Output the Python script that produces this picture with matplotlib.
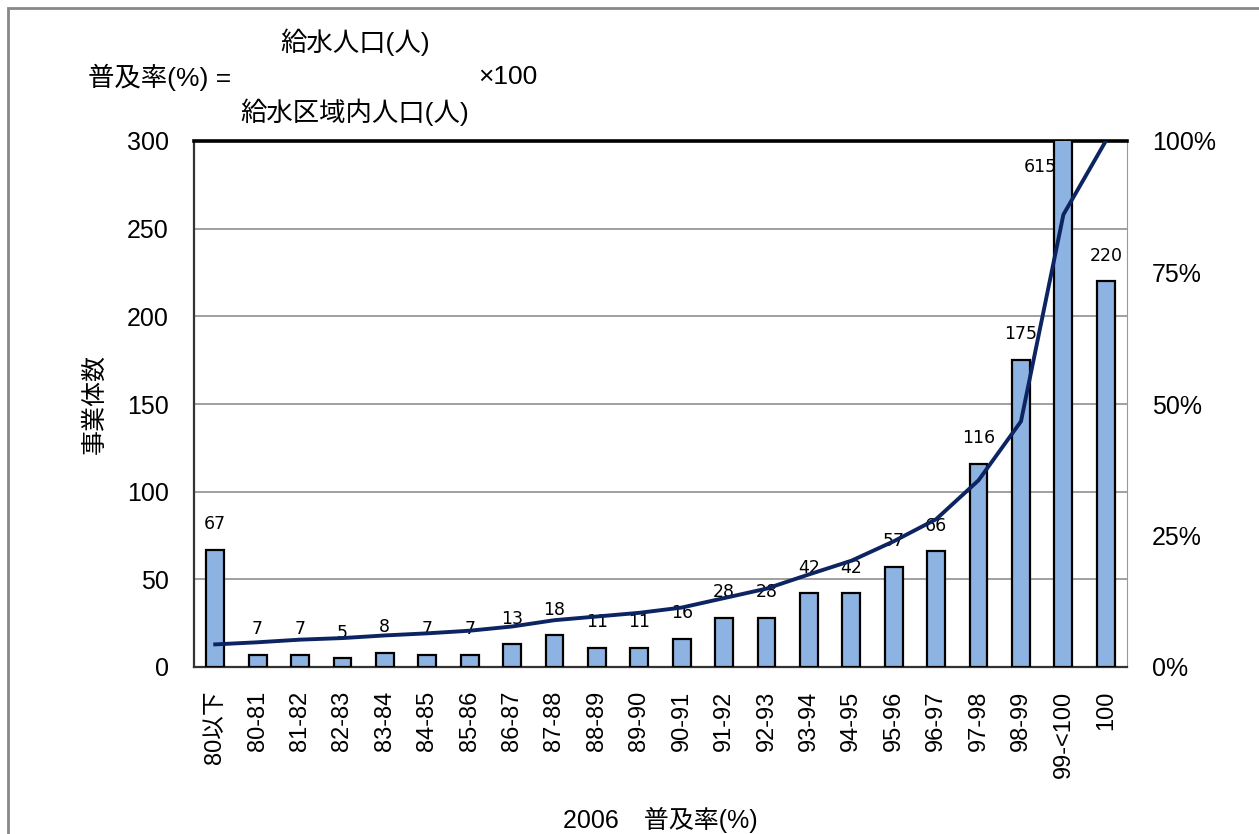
import matplotlib
matplotlib.use("Agg")
import matplotlib.pyplot as plt
from matplotlib.patches import Rectangle

plt.rcParams['font.family'] = ['Liberation Sans', 'Noto Sans CJK JP', 'DejaVu Sans']

# data
categories = ['80以下', '80-81', '81-82', '82-83', '83-84', '84-85', '85-86', '86-87',
              '87-88', '88-89', '89-90', '90-91', '91-92', '92-93', '93-94', '94-95',
              '95-96', '96-97', '97-98', '98-99', '99-<100', '100']
counts = [67, 7, 7, 5, 8, 7, 7, 13, 18, 11, 11, 16, 28, 28, 42, 42, 57, 66, 116, 175, 615, 220]
cum_pct = [4.3, 4.7, 5.2, 5.5, 6.0, 6.4, 6.9, 7.7, 8.9, 9.6, 10.3, 11.3, 13.1, 14.9,
           17.6, 20.2, 23.9, 28.1, 35.5, 46.7, 86.0, 100.0]
left_ticks = [0, 50, 100, 150, 200, 250, 300]
right_ticks = [0, 25, 50, 75, 100]

W, H = 1259, 834
fig = plt.figure(figsize=(W / 100, H / 100), dpi=100)
ax = fig.add_axes([194 / W, 1 - 667 / H, (1127 - 194) / W, (667 - 141) / H])
fam = ['Liberation Sans', 'Noto Sans CJK JP']

x = list(range(len(categories)))
ax.bar(x, counts, width=0.42, color='#8DB3E2', edgecolor='black', linewidth=1.6, zorder=3)
ax.set_xlim(-0.5, len(categories) - 0.5)
ax.set_ylim(0, 300)
ax.set_yticks(left_ticks)
ax.set_yticklabels([str(t) for t in left_ticks], fontsize=18)
ax.tick_params(axis='y', length=0, pad=18)
ax.set_xticks(x)
ax.set_xticklabels(categories, rotation=90, fontsize=17, family=fam)
ax.tick_params(axis='x', length=0, pad=17)
ax.yaxis.grid(True, color='#999999', linewidth=1.3, zorder=0)
ax.set_axisbelow(True)
ax.set_ylabel('事業体数', fontsize=18, family=['Noto Sans CJK JP'], labelpad=14)
ax.set_xlabel('2006　普及率(%)', fontsize=18, family=fam, labelpad=21)

ax.spines['top'].set_linewidth(2.6)
ax.spines['top'].set_color('black')
ax.spines['left'].set_color('#333333')
ax.spines['left'].set_linewidth(1.6)
ax.spines['bottom'].set_color('#333333')
ax.spines['bottom'].set_linewidth(1.6)
ax.spines['right'].set_color('#999999')

for i, v in enumerate(counts):
    if v > 300:
        ax.annotate(str(v), (i, 300), xytext=(-16.5, -19), textcoords='offset points',
                    ha='center', va='center', fontsize=12.5, family=['DejaVu Sans'], zorder=5)
    else:
        ax.annotate(str(v), (i, v), xytext=(0, 12), textcoords='offset points',
                    ha='center', va='bottom', fontsize=12.5, family=['DejaVu Sans'], zorder=5)

ax2 = ax.twinx()
ax2.plot(x, cum_pct, color='#0C2461', linewidth=2.8, zorder=4)
ax2.set_ylim(0, 100)
ax2.set_yticks(right_ticks)
ax2.set_yticklabels([f'{t}%' for t in right_ticks], fontsize=18)
ax2.tick_params(axis='y', length=0, pad=18)
for s in ax2.spines.values():
    s.set_visible(False)

# formula header
fs = 19
fig.text(355 / W, 1 - 42 / H, '給水人口(人)', ha='center', va='center', fontsize=fs, family=fam)
fig.text(88 / W, 1 - 77 / H, '普及率(%) =', ha='left', va='center', fontsize=fs, family=fam)
fig.text(478 / W, 1 - 77 / H, '×100', ha='left', va='center', fontsize=fs, family=fam)
fig.text(355 / W, 1 - 112 / H, '給水区域内人口(人)', ha='center', va='center', fontsize=fs, family=fam)

# outer frame
fig.patches.append(Rectangle((8 / W, -0.05), 1.1, 1 - 8 / H + 0.05, transform=fig.transFigure,
                             fill=False, edgecolor='#888888', linewidth=2))

fig.savefig('out.png', dpi=100)
